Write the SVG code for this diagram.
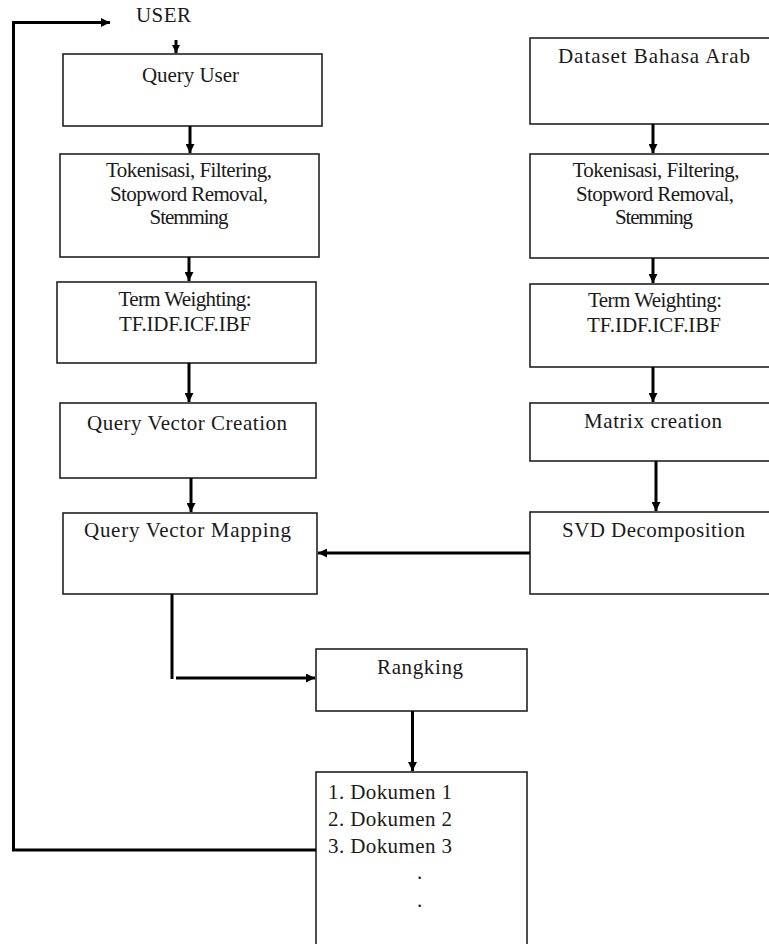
<svg xmlns="http://www.w3.org/2000/svg" width="769" height="944" viewBox="0 0 769 944">
<style>
.box{fill:#fff;stroke:#222;stroke-width:1.6}
.t{font-family:"Liberation Serif","Times New Roman",serif;font-size:21px;fill:#1a1a1a}
.c{text-anchor:middle}
.con{fill:none;stroke:#000;stroke-width:3}
</style>
<defs>
<marker id="ah" viewBox="0 0 10 10" refX="10" refY="5" markerWidth="10" markerHeight="9" markerUnits="userSpaceOnUse" orient="auto">
<path d="M0,0 L10,5 L0,10 z" fill="#000"/>
</marker>
<marker id="ahs" viewBox="0 0 10 10" refX="10" refY="5" markerWidth="8" markerHeight="8" markerUnits="userSpaceOnUse" orient="auto">
<path d="M0,0 L10,5 L0,10 z" fill="#000"/>
</marker>
</defs>
<rect width="769" height="944" fill="#fff"/>

<g id="user-label"><text class="t" x="136" y="22" textLength="55">USER</text></g>

<g id="query-user"><rect class="box" x="63" y="54" width="259" height="72"/><text class="t c" x="190.5" y="82" textLength="97">Query User</text></g>
<g id="prepro-left"><rect class="box" x="60" y="154" width="259" height="103"/>
<text class="t c" x="189" y="177" textLength="166">Tokenisasi, Filtering,</text>
<text class="t c" x="189" y="201" textLength="158">Stopword Removal,</text>
<text class="t c" x="189" y="224" textLength="79">Stemming</text></g>
<g id="term-left"><rect class="box" x="57" y="282" width="259" height="81"/>
<text class="t c" x="185" y="306" textLength="133">Term Weighting:</text>
<text class="t c" x="185" y="331" textLength="132">TF.IDF.ICF.IBF</text></g>
<g id="qvc"><rect class="box" x="60" y="403" width="256" height="75"/><text class="t c" x="187" y="430" textLength="200">Query Vector Creation</text></g>
<g id="qvm"><rect class="box" x="63" y="513" width="254" height="81"/><text class="t c" x="187.5" y="537" textLength="207">Query Vector Mapping</text></g>

<g id="dataset"><rect class="box" x="530" y="38" width="250" height="86"/><text class="t c" x="654" y="63" textLength="192">Dataset Bahasa Arab</text></g>
<g id="prepro-right"><rect class="box" x="530" y="154" width="250" height="104"/>
<text class="t c" x="656" y="177" textLength="167">Tokenisasi, Filtering,</text>
<text class="t c" x="655" y="201" textLength="158">Stopword Removal,</text>
<text class="t c" x="654" y="224" textLength="78">Stemming</text></g>
<g id="term-right"><rect class="box" x="530" y="284" width="250" height="83"/>
<text class="t c" x="655" y="307" textLength="134">Term Weighting:</text>
<text class="t c" x="654" y="332" textLength="134">TF.IDF.ICF.IBF</text></g>
<g id="matrix"><rect class="box" x="530" y="403" width="250" height="58"/><text class="t c" x="653" y="428" textLength="138">Matrix creation</text></g>
<g id="svd"><rect class="box" x="530" y="512" width="250" height="82"/><text class="t c" x="653.5" y="537" textLength="183">SVD Decomposition</text></g>

<g id="rangking"><rect class="box" x="316" y="649" width="211" height="62"/><text class="t c" x="420" y="674" textLength="86">Rangking</text></g>
<g id="dokumen"><rect class="box" x="316" y="772" width="211" height="190"/>
<text class="t" x="328" y="799" textLength="124">1. Dokumen 1</text>
<text class="t" x="328" y="826" textLength="124">2. Dokumen 2</text>
<text class="t" x="328" y="853" textLength="124">3. Dokumen 3</text>
<text class="t" x="417" y="879">.</text>
<text class="t" x="417" y="907">.</text></g>

<g id="connectors">
<line class="con" x1="176" y1="40" x2="176" y2="53" stroke-width="2.2" marker-end="url(#ahs)"/>
<line class="con" x1="190" y1="126" x2="190" y2="153" marker-end="url(#ah)"/>
<line class="con" x1="189" y1="257" x2="189" y2="281" marker-end="url(#ah)"/>
<line class="con" x1="189" y1="363" x2="189" y2="402" marker-end="url(#ah)"/>
<line class="con" x1="191" y1="478" x2="191" y2="512" marker-end="url(#ah)"/>
<line class="con" x1="653" y1="124" x2="653" y2="153" marker-end="url(#ah)"/>
<line class="con" x1="653" y1="258" x2="653" y2="283" marker-end="url(#ah)"/>
<line class="con" x1="653" y1="367" x2="653" y2="402" marker-end="url(#ah)"/>
<line class="con" x1="656" y1="461" x2="656" y2="511" marker-end="url(#ah)"/>
<line class="con" x1="530" y1="553" x2="318" y2="553" marker-end="url(#ah)"/>
<line class="con" x1="172" y1="594" x2="172" y2="679"/>
<line class="con" x1="176" y1="678" x2="315" y2="678" marker-end="url(#ah)"/>
<line class="con" x1="412.5" y1="711" x2="412.5" y2="771" marker-end="url(#ah)"/>
<path class="con" d="M316,850 L13.5,850 L13.5,22.5 L110,22.5" marker-end="url(#ah)"/>
</g>
</svg>
